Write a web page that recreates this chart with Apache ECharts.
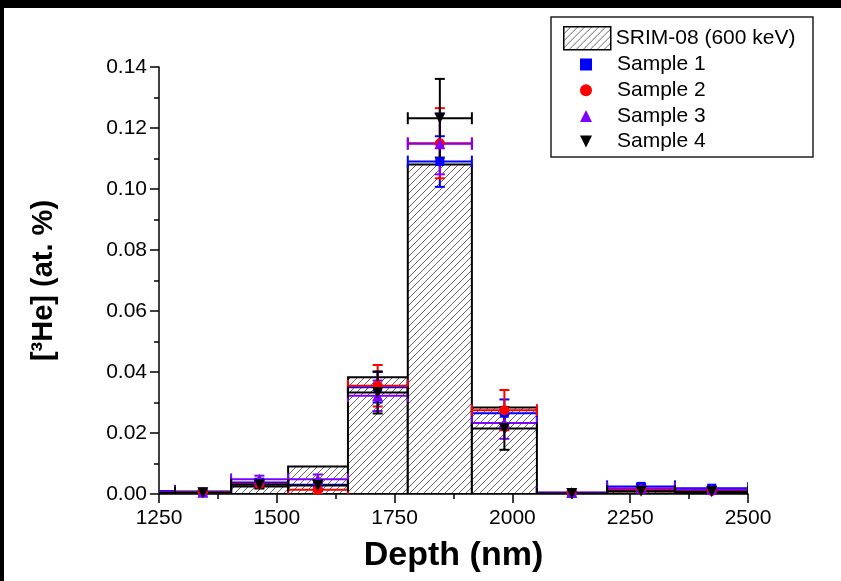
<!DOCTYPE html>
<html>
<head>
<meta charset="utf-8">
<script src="https://cdn.jsdelivr.net/npm/echarts@6/dist/echarts.min.js"></script>
<style>
  html, body { margin: 0; padding: 0; background: #fff; }
  #chart { width: 841px; height: 581px; }
</style>
</head>
<body>
<div id="chart"></div>
<script>
// depth bins (nm) - edges and centres
const binEdges = [1170, 1284, 1403, 1524, 1651, 1778, 1914, 2052, 2201, 2345, 2500];
const depthNm = [1227, 1343, 1463, 1587, 1714, 1846, 1983, 2126, 2273, 2423];

// SRIM-08 (600 keV) profile, at. %
const srimHe = [0.0005, 0.0008, 0.0025, 0.0090, 0.0383, 0.1080, 0.0284, 0.0004, 0.0008, 0.0006];

// measured samples, value and +/- error
const sample1 = [0.0010, 0.0006, 0.0038, 0.0030, 0.0350, 0.1090, 0.0265, 0.0003, 0.0025, 0.0019];
const sample1Err = [0.0004, 0.0005, 0.0012, 0.0015, 0.0050, 0.0083, 0.0045, 0.0003, 0.0008, 0.0006];
const sample2 = [0.0006, 0.0005, 0.0033, 0.0014, 0.0355, 0.1150, 0.0275, 0.0003, 0.0014, 0.0010];
const sample2Err = [0.0004, 0.0005, 0.0012, 0.0014, 0.0068, 0.0115, 0.0066, 0.0003, 0.0006, 0.0005];
const sample3 = [0.0008, 0.0006, 0.0048, 0.0048, 0.0322, 0.1148, 0.0233, 0.0005, 0.0019, 0.0015];
const sample3Err = [0.0003, 0.0005, 0.0012, 0.0016, 0.0050, 0.0100, 0.0052, 0.0004, 0.0007, 0.0005];
const sample4 = [0.0004, 0.0004, 0.0030, 0.0028, 0.0333, 0.1232, 0.0215, 0.0002, 0.0009, 0.0007];
const sample4Err = [0.0003, 0.0004, 0.0012, 0.0018, 0.0069, 0.0129, 0.0070, 0.0002, 0.0005, 0.0004];

const xTicks = [1250, 1500, 1750, 2000, 2250, 2500];
const yTicks = [0, 0.02, 0.04, 0.06, 0.08, 0.10, 0.12, 0.14];

const FONT = "'Liberation Sans', Arial, sans-serif";

// diagonal hatch pattern
function makeHatch() {
    const c = document.createElement('canvas');
    c.width = 7; c.height = 7;
    const ctx = c.getContext('2d');
    ctx.fillStyle = '#fff';
    ctx.fillRect(0, 0, 7, 7);
    ctx.strokeStyle = '#666';
    ctx.lineWidth = 1;
    ctx.beginPath();
    ctx.moveTo(-1, 8); ctx.lineTo(8, -1);
    ctx.moveTo(-1, 1); ctx.lineTo(1, -1);
    ctx.moveTo(6, 8); ctx.lineTo(8, 6);
    ctx.stroke();
    return c;
}
const hatch = { image: makeHatch(), repeat: 'repeat' };

const samples = [
    { name: 'Sample 1', vals: sample1, err: sample1Err, color: '#0000ff', symbol: 'rect', size: 9 },
    { name: 'Sample 2', vals: sample2, err: sample2Err, color: '#ff0000', symbol: 'circle', size: 10 },
    { name: 'Sample 3', vals: sample3, err: sample3Err, color: '#7f00ff', symbol: 'triangle', size: 11 },
    { name: 'Sample 4', vals: sample4, err: sample4Err, color: '#000000', symbol: 'path://M0,0 L10,0 L5,10 Z', size: 11 }
]

function renderSrim(params, api) {
    const p0 = api.coord([api.value(0), api.value(2)]);
    const p1 = api.coord([api.value(1), 0]);
    return {
        type: 'rect',
        shape: { x: p0[0], y: p0[1], width: p1[0] - p0[0], height: p1[1] - p0[1] },
        style: { fill: hatch, stroke: '#000', lineWidth: 2 }
    }
}

function renderErr(params, api) {
    const x = api.value(0), y = api.value(1), lo = api.value(2), hi = api.value(3), e = api.value(4);
    const pl = api.coord([lo, y]), ph = api.coord([hi, y]);
    const pt = api.coord([x, y + e]), pb = api.coord([x, y - e]);
    const st = { stroke: api.visual('color'), lineWidth: 2 };
    const ln = (x1, y1, x2, y2) => ({ type: 'line', shape: { x1, y1, x2, y2 }, style: st });
    return {
        type: 'group',
        children: [
            ln(pl[0], pl[1], ph[0], ph[1]),
            ln(pl[0], pl[1] - 6, pl[0], pl[1] + 6),
            ln(ph[0], ph[1] - 6, ph[0], ph[1] + 6),
            ln(pt[0], pt[1], pb[0], pb[1]),
            ln(pt[0] - 5, pt[1], pt[0] + 5, pt[1]),
            ln(pb[0] - 5, pb[1], pb[0] + 5, pb[1])
        ]
    }
}

const series = [{
    name: 'SRIM-08 (600 keV)',
    type: 'custom',
    renderItem: renderSrim,
    clip: true,
    itemStyle: { color: hatch },
    data: srimHe.map((v, i) => [binEdges[i], binEdges[i + 1], v]),
    encode: { x: [0, 1], y: 2 },
    z: 1
}]

samples.forEach(s => {
    series.push({
        name: s.name,
        type: 'custom',
        renderItem: renderErr,
        clip: true,
        itemStyle: { color: s.color },
        data: s.vals.map((v, i) => [depthNm[i], v, binEdges[i], binEdges[i + 1], s.err[i]]),
        encode: { x: [0, 2, 3], y: 1 },
        z: 2
    })
    series.push({
        name: s.name,
        type: 'scatter',
        symbol: s.symbol,
        symbolSize: s.size,
        clip: true,
        itemStyle: { color: s.color, opacity: 1 },
        data: s.vals.map((v, i) => [depthNm[i], v]),
        z: 3
    })
})

const chart = echarts.init(document.getElementById('chart'));
chart.setOption({
    animation: false,
    backgroundColor: '#fff',
    textStyle: { fontFamily: FONT },
    grid: { left: 159, right: 93, top: 67, bottom: 87 },
    xAxis: {
        type: 'value',
        min: xTicks[0],
        max: xTicks[xTicks.length - 1],
        interval: 250,
        name: 'Depth (nm)',
        nameLocation: 'middle',
        nameGap: 45,
        nameTextStyle: { fontSize: 34, fontWeight: 'bold', color: '#000', fontFamily: FONT },
        axisLine: { lineStyle: { color: '#000', width: 1.5 } },
        axisTick: { inside: false, length: 9, lineStyle: { color: '#000', width: 1.5 } },
        minorTick: { show: true, splitNumber: 2, length: 5, lineStyle: { color: '#000', width: 1.5 } },
        axisLabel: { fontSize: 21, color: '#000', margin: 14, fontFamily: FONT, formatter: v => String(v) },
        splitLine: { show: false }
    },
    yAxis: {
        type: 'value',
        min: yTicks[0],
        max: yTicks[yTicks.length - 1],
        interval: 0.02,
        name: '[³He] (at. %)',
        nameLocation: 'middle',
        nameGap: 101,
        nameTextStyle: { fontSize: 29, fontWeight: 'bold', color: '#000', fontFamily: FONT },
        axisLine: { show: true, lineStyle: { color: '#000', width: 1.5 } },
        axisTick: { show: true, inside: false, length: 9, lineStyle: { color: '#000', width: 1.5 } },
        minorTick: { show: true, splitNumber: 2, length: 5, lineStyle: { color: '#000', width: 1.5 } },
        axisLabel: { fontSize: 21, color: '#000', margin: 12, fontFamily: FONT, formatter: v => v.toFixed(2) },
        splitLine: { show: false }
    },
    legend: [{
        left: 558,
        top: 21,
        itemWidth: 47,
        itemHeight: 23,
        textStyle: { fontSize: 21, color: '#000', fontFamily: FONT },
        data: [{ name: 'SRIM-08 (600 keV)', icon: 'rect', itemStyle: { color: hatch, borderColor: '#000', borderWidth: 1.5 } }],
        selectedMode: false
    }, {
        orient: 'vertical',
        left: 575,
        top: 49,
        itemWidth: 12,
        itemHeight: 12,
        itemGap: 4.7,
        textStyle: { fontSize: 21, lineHeight: 20, color: '#000', fontFamily: FONT, padding: [0, 0, 0, 20] },
        data: samples.map(s => ({ name: s.name, icon: s.symbol })),
        selectedMode: false
    }],
    graphic: [
        { type: 'rect', shape: { x: 551, y: 17, width: 262, height: 140 }, style: { fill: 'none', stroke: '#222', lineWidth: 1.5 }, z: 10 },
        { type: 'rect', shape: { x: 0, y: 0, width: 841, height: 8 }, style: { fill: '#000' }, z: 10 },
        { type: 'rect', shape: { x: 0, y: 0, width: 4, height: 581 }, style: { fill: '#000' }, z: 10 }
    ],
    series: series
})
</script>
</body>
</html>
